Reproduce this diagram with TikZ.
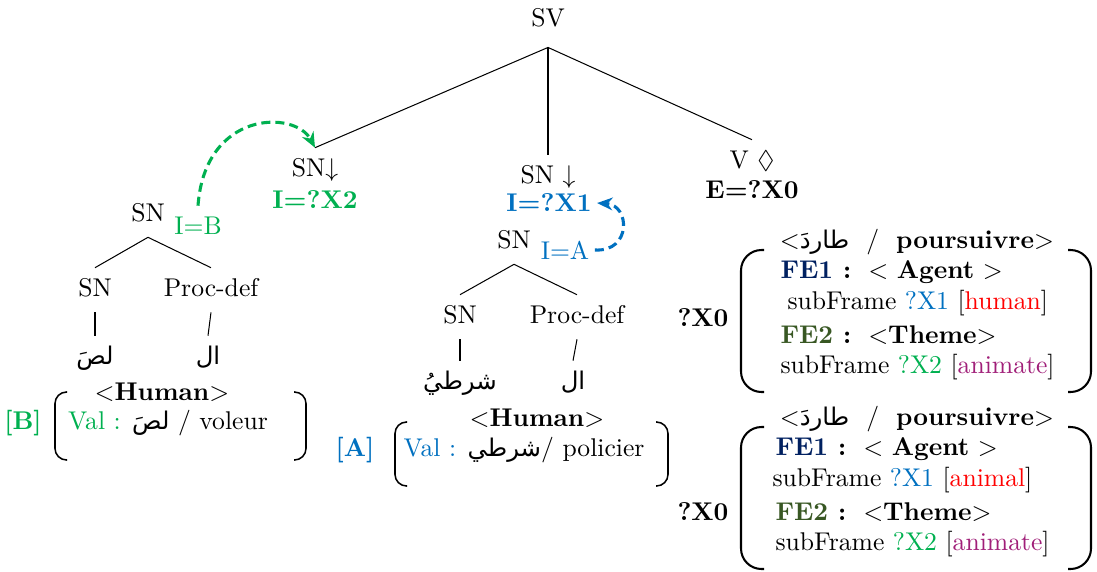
\documentclass[tikz,border=0pt]{standalone}
\usepackage{fontspec}
\usepackage{amssymb}
\usetikzlibrary{arrows.meta}
\newfontfamily\arabicfont[Script=Arabic,Scale=0.95]{DejaVu Sans}
\TeXXeTstate=1
\newcommand{\ar}[1]{{\arabicfont\beginR #1\endR}}
\definecolor{idgreen}{RGB}{0,176,80}
\definecolor{idblue}{RGB}{0,112,192}
\definecolor{fedblue}{RGB}{0,32,96}
\definecolor{fedgreen}{RGB}{56,87,35}
\definecolor{semred}{RGB}{255,0,0}
\definecolor{sempurple}{RGB}{160,30,120}
\begin{document}
\begin{tikzpicture}[x=0.39pt, y=-0.39pt,
        tn/.style={inner sep=4pt, text height=7pt, text depth=2pt},
        lbl/.style={inner sep=2pt},
        paren/.style={line width=0.6pt, rounded corners=4.5pt},
        bigparen/.style={line width=0.8pt, rounded corners=8pt},
        link/.style={-{Stealth[length=6pt,width=5pt]}, line width=1.2pt, dash pattern=on 3.5pt off 2pt},
        fl/.style={anchor=west, inner sep=0pt}]
    \useasboundingbox (0,0) rectangle (1097,571);
    % tree
        \node[tn, inner ysep=6pt] (sv) at (548,20) {SV};
        \node[tn] (snx2) at (315,170) {SN$\downarrow$};
        \node[lbl, text=idgreen, font=\bfseries] (ix2) at (315,200) {I=?X2};
        \node[tn] (snx1) at (548,177) {SN $\downarrow$};
        \node[lbl, text=idblue, font=\bfseries] (ix1) at (549,203) {I=?X1};
        \node[tn] (v) at (752,162) {V $\lozenge$};
        \node[lbl, font=\bfseries] (ex0) at (752,190) {E=?X0};
    % left noun phrase
        \node[tn] (snb) at (148,215) {SN};
        \node[tn, text=idgreen] (ib) at (198,228) {I=B};
        \node[tn] (snb1) at (95,290) {SN};
        \node[tn] (pdb) at (211,290) {Proc-def};
        \node[tn] (wb1) at (95,358) {\ar{لصَ}};
        \node[tn] (wb2) at (208,358) {\ar{ال}};
    % middle noun phrase
        \node[tn] (sna) at (514,242) {SN};
        \node[lbl, text=idblue] (ia) at (565,250) {I=A};
        \node[tn] (sna1) at (460,317) {SN};
        \node[tn] (pda) at (577,317) {Proc-def};
        \node[tn] (wa1) at (460,383) {\ar{شرطيُ}};
        \node[tn] (wa2) at (573,383) {\ar{ال}};
    % branches
        \foreach \a/\b in {sv/snx2,sv/snx1,sv/v,snb/snb1,snb/pdb,sna/sna1,sna/pda,snb1/wb1,pdb/wb2,sna1/wa1,pda/wa2}{
            \draw (\a.south) -- (\b.north);
        }
    % substitutions
        \draw[link, idgreen] (ib.north) .. controls (205,110) and (295,110) .. (snx2.north);
        \draw[link, idblue] (ia.east) .. controls (632,252) and (630,205) .. (ix1.east);
    % semantic features
        \node[lbl, font=\bfseries] (humb) at (162,392) {$<$Human$>$};
        \node[lbl, text=idgreen, font=\bfseries] (tb) at (23,423) {[B]};
        \node[lbl] (valb) at (168,423) {{\color{idgreen}Val :} \ar{لصَ} / voleur};
        \draw[paren] (67,392) -- (55,392) -- (55,460) -- (67,460);
        \draw[paren] (294,392) -- (306,392) -- (306,460) -- (294,460);
        \node[lbl, font=\bfseries] (huma) at (537,418) {$<$Human$>$};
        \node[lbl, text=idblue, font=\bfseries] (ta) at (355,450) {[A]};
        \node[lbl] (vala) at (524,450) {{\color{idblue}Val :} \ar{شرطي}/ policier};
        \draw[paren] (407,422) -- (395,422) -- (395,486) -- (407,486);
        \draw[paren] (656,422) -- (668,422) -- (668,486) -- (656,486);
    % frames
        \foreach \k/\dy/\fx/\sx/\sem/\qy in {1/0/780/787/human/318,2/177/775/772/animal/512}{
            \node[lbl, font=\bfseries] (q\k) at (703,\qy) {?X0};
            \node[lbl] (hd\k) at (917,242+\dy) {$<$\ar{طاردَ} \ / \ \textbf{poursuivre}$>$};
            \node[fl] (fa\k) at (\fx,272+\dy) {{\bfseries{\color{fedblue}FE1} :}\ \ $<$ \textbf{Agent} $>$};
            \node[fl] (sa\k) at (\sx,303+\dy) {subFrame {\color{idblue}?X1} [{\color{semred}\sem}]};
            \node[fl] (fb\k) at (\fx,335+\dy) {{\bfseries{\color{fedgreen}FE2} :}\ \ $<$\textbf{Theme}$>$};
            \node[fl] (sb\k) at (\fx,367+\dy) {subFrame {\color{idgreen}?X2} [{\color{sempurple}animate}]};
            \draw[bigparen] (764,250+\dy) -- (741,250+\dy) -- (741,392+\dy) -- (764,392+\dy);
            \draw[bigparen] (1068,250+\dy) -- (1091,250+\dy) -- (1091,392+\dy) -- (1068,392+\dy);
        }
\end{tikzpicture}
\end{document}
